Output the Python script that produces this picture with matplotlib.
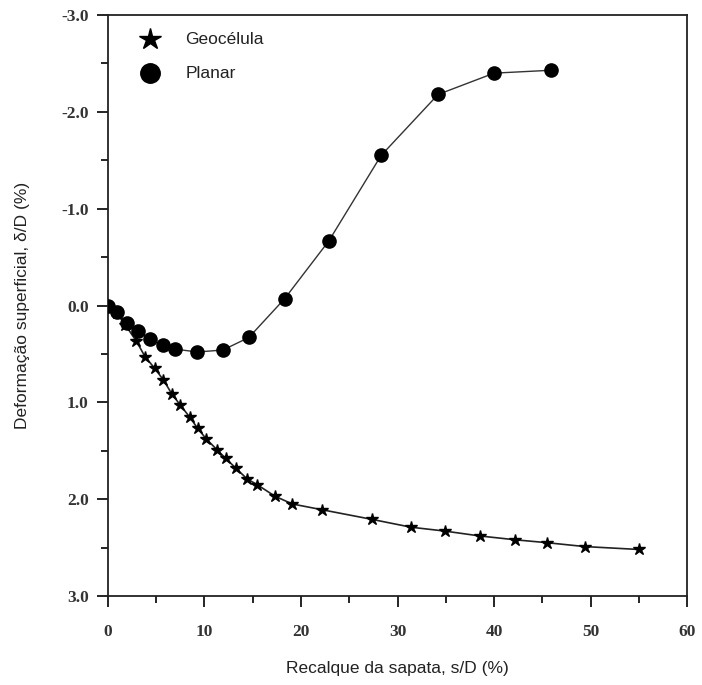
import numpy as np
import matplotlib
matplotlib.use('Agg')
import matplotlib.pyplot as plt
from matplotlib.ticker import MultipleLocator, FormatStrFormatter

# Geocélula (stars)
geo_x = [0, 0.9, 1.8, 2.95, 3.85, 4.85, 5.75, 6.6, 7.5, 8.45, 9.3, 10.2, 11.3,
         12.2, 13.25, 14.4, 15.45, 17.3, 19.1, 22.2, 27.4, 31.4, 34.9, 38.5,
         42.2, 45.5, 49.4, 55.0]
geo_y = [0, 0.08, 0.2, 0.37, 0.53, 0.65, 0.77, 0.91, 1.03, 1.15, 1.27, 1.38,
         1.49, 1.58, 1.68, 1.79, 1.85, 1.97, 2.05, 2.11, 2.21, 2.29, 2.33, 2.38,
         2.42, 2.45, 2.49, 2.52]

# Planar (circles)
pla_x = [0, 0.9, 2.0, 3.14, 4.38, 5.73, 6.91, 9.25, 11.9, 14.6, 18.3, 22.9,
         28.3, 34.2, 40.0, 45.9]
pla_y = [0, 0.07, 0.18, 0.26, 0.35, 0.41, 0.45, 0.48, 0.46, 0.33, -0.07, -0.67,
         -1.55, -2.18, -2.40, -2.43]

x_ticks = [0, 10, 20, 30, 40, 50, 60]
y_ticks = [-3.0, -2.0, -1.0, 0.0, 1.0, 2.0, 3.0]

fig = plt.figure(figsize=(7.02, 6.85), dpi=100)
ax = fig.add_axes([0.1538, 0.13, 0.825, 0.848])

ax.plot(pla_x, pla_y, color='#333333', lw=1.0, zorder=2)
ax.plot(geo_x, geo_y, color='#222222', lw=1.2, zorder=2)
ax.plot(pla_x, pla_y, 'o', color='black', ms=9.5, ls='none', zorder=3)
ax.plot(geo_x, geo_y, '*', color='black', ms=9, ls='none', zorder=4)

ax.set_xlim(0, 60)
ax.set_ylim(3.0, -3.0)
ax.set_xticks(x_ticks)
ax.set_yticks(y_ticks)
ax.xaxis.set_minor_locator(MultipleLocator(5))
ax.yaxis.set_minor_locator(MultipleLocator(0.5))
ax.yaxis.set_major_formatter(FormatStrFormatter('%.1f'))

for lab in ax.get_xticklabels() + ax.get_yticklabels():
    lab.set_fontfamily('Liberation Serif')
    lab.set_fontsize(12.5)
    lab.set_fontweight('bold')
    lab.set_color('#333333')

ax.tick_params(which='major', direction='out', length=8, width=1.2)
ax.tick_params(axis='x', which='major', pad=12)
ax.tick_params(axis='y', which='major', pad=6)
ax.tick_params(which='minor', direction='out', length=5, width=1.2)
for s in ax.spines.values():
    s.set_linewidth(1.3)
    s.set_color('#222222')

ax.set_xlabel('Recalque da sapata, s/D (%)', fontfamily='Liberation Sans',
              fontsize=12.5, labelpad=15, color='#222222')
ax.set_ylabel('Deformação superficial, δ/D (%)', fontfamily='Liberation Sans',
              fontsize=12.5, labelpad=22, color='#222222')

# legend
ax.plot([4.4], [-2.75], '*', color='black', ms=16, clip_on=False)
ax.plot([4.4], [-2.4], 'o', color='black', ms=14, clip_on=False)
ax.text(8.0, -2.75, 'Geocélula', fontfamily='Liberation Sans', fontsize=12.5,
        va='center', color='#222222')
ax.text(8.0, -2.4, 'Planar', fontfamily='Liberation Sans', fontsize=12.5,
        va='center', color='#222222')

fig.savefig('out.png', dpi=100)
